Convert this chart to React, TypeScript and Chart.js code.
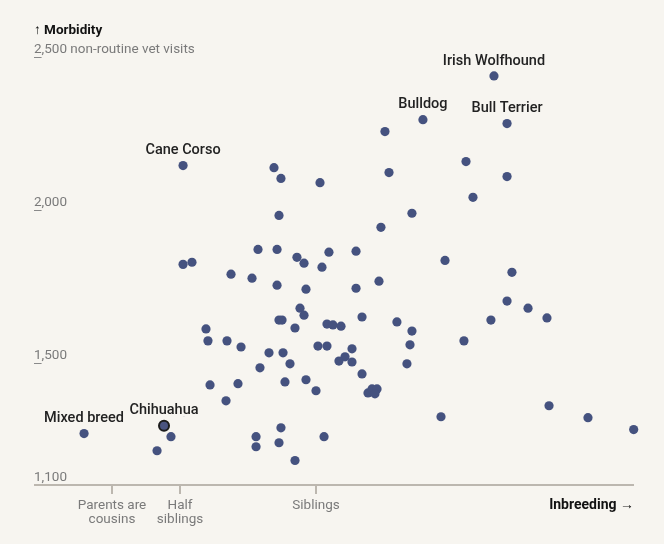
import React, { useEffect, useRef } from "react";
import { Chart, registerables } from "chart.js";

Chart.register(...registerables);

// Labelled breeds come first (indices 0-5)
const labelNames = ["Mixed breed", "Chihuahua", "Cane Corso", "Bulldog", "Irish Wolfhound", "Bull Terrier"];
const highlightIndex = 1;

// Inbreeding coefficient (%)
const inbreeding = [
  3.68, 11.03, 12.78, 34.83, 41.36, 42.56,
  10.39, 11.67, 12.96, 12.78, 13.6, 21.14, 21.78, 21.6, 19.67, 21.42, 23.25, 23.9, 17.19, 19.12,
  21.42, 24.08, 31.34, 38.79, 31.71, 25.37, 39.43, 33.82, 30.97, 26.19, 28.68, 25.55, 36.86, 28.68,
  30.79, 42.56, 43.01, 42.56, 44.49, 41.08, 46.23, 38.6, 36.49, 46.42, 50.0, 54.2, 23.53, 23.9,
  21.6, 21.88, 23.07, 14.89, 15.07, 16.82, 18.11, 25.18, 26.01, 20.68, 21.97, 22.61, 19.85, 15.26,
  17.83, 22.15, 24.08, 25.0, 16.73, 21.78, 19.49, 19.49, 21.6, 25.74, 23.07, 29.23, 26.01, 26.56,
  27.3, 32.44, 33.82, 28.31, 27.67, 27.11, 28.31, 33.64, 33.36, 29.23, 29.78, 30.15, 30.61, 30.42,
];

// Non-routine vet visits
const morbidity = [
  1268, 1294, 2144, 2294, 2437, 2281,
  1212, 1258, 1338, 1821, 1828, 2137, 2102, 1981, 1870, 1870, 1844, 1825, 1789, 1776,
  1753, 1740, 2255, 2157, 2121, 2088, 2040, 1988, 1942, 1861, 1864, 1812, 1834, 1743,
  1766, 2108, 1795, 1701, 1678, 1639, 1646, 1571, 1323, 1359, 1320, 1281, 1678, 1655,
  1639, 1639, 1613, 1610, 1571, 1571, 1551, 1554, 1554, 1532, 1532, 1496, 1483, 1427,
  1431, 1437, 1444, 1408, 1375, 1287, 1258, 1225, 1238, 1258, 1180, 1649, 1626, 1623,
  1619, 1633, 1603, 1545, 1519, 1505, 1502, 1558, 1496, 1463, 1401, 1414, 1414, 1398,
];

const yTickValues = [2500, 2000, 1500, 1100];
const yTickLabels = ["2,500", "2,000", "1,500", "1,100"];
const yUnitSuffix = " non-routine vet visits";

const xTickValues = [6.25, 12.5, 25];
const xTickLabels = [["Parents are", "cousins"], ["Half", "siblings"], ["Siblings"]];

const BG = "#f7f5f0";
const DOT = "#45527f";
const FONT = "Roboto, 'Noto Sans', sans-serif";

const decorPlugin = {
  id: "decor",
  beforeDraw(chart: any) {
    const { ctx } = chart;
    ctx.save();
    ctx.fillStyle = BG;
    ctx.fillRect(0, 0, chart.width, chart.height);
    ctx.restore();
  },
  afterDraw(chart: any) {
    const { ctx, chartArea } = chart;
    const xs = chart.scales.x;
    const ys = chart.scales.y;
    ctx.save();
    // title
    ctx.fillStyle = "#121212";
    ctx.font = `bold 13.5px ${FONT}`;
    ctx.textAlign = "left";
    ctx.textBaseline = "alphabetic";
    ctx.fillText("↑ Morbidity", chartArea.left, 34);

    // y ticks
    ctx.font = `13.5px ${FONT}`;
    yTickValues.forEach((v, i) => {
      const py = Math.round(ys.getPixelForValue(v));
      const text = yTickLabels[i] + (i === 0 ? yUnitSuffix : "");
      ctx.fillStyle = "#7a7a7a";
      ctx.fillText(text, chartArea.left, py - 4);
      const w = ctx.measureText(yTickLabels[i].charAt(0)).width;
      ctx.strokeStyle = "#8a8a8a";
      ctx.lineWidth = 1;
      ctx.beginPath();
      ctx.moveTo(chartArea.left, py + 0.5);
      ctx.lineTo(chartArea.left + w, py + 0.5);
      ctx.stroke();
    });

    // x axis
    const axisY = Math.round(ys.getPixelForValue(1100));
    ctx.strokeStyle = "#bcb7af";
    ctx.lineWidth = 2;
    ctx.beginPath();
    ctx.moveTo(chartArea.left, axisY);
    ctx.lineTo(chartArea.right, axisY);
    ctx.stroke();

    ctx.textAlign = "center";
    xTickValues.forEach((v, i) => {
      const px = Math.round(xs.getPixelForValue(v));
      ctx.strokeStyle = "#bcb7af";
      ctx.lineWidth = 2;
      ctx.beginPath();
      ctx.moveTo(px, axisY);
      ctx.lineTo(px, axisY + 9);
      ctx.stroke();
      ctx.fillStyle = "#7a7a7a";
      ctx.font = `13.5px ${FONT}`;
      xTickLabels[i].forEach((line, j) => {
        ctx.fillText(line, px, axisY + 24 + j * 14);
      });
    });

    ctx.textAlign = "right";
    ctx.fillStyle = "#121212";
    ctx.font = `bold 14px ${FONT}`;
    ctx.fillText("Inbreeding →", chartArea.right, axisY + 24);

    // point labels
    ctx.textAlign = "center";
    ctx.textBaseline = "middle";
    ctx.font = `500 14.5px ${FONT}`;
    ctx.lineJoin = "round";
    labelNames.forEach((name, i) => {
      const px = xs.getPixelForValue(inbreeding[i]);
      const py = ys.getPixelForValue(morbidity[i]) - 15;
      ctx.strokeStyle = BG;
      ctx.lineWidth = 6;
      ctx.strokeText(name, px, py);
      ctx.fillStyle = "#222222";
      ctx.fillText(name, px, py);
    });
    ctx.restore();
  },
};

export default function App() {
  const ref = useRef<HTMLCanvasElement | null>(null);
  useEffect(() => {
    if (!ref.current) return;
    const points = inbreeding.map((x, i) => ({ x, y: morbidity[i] }));
    const chart = new Chart(ref.current, {
      type: "scatter",
      data: {
        datasets: [
          {
            data: points,
            clip: false as any,
            pointRadius: points.map((_, i) => (i === highlightIndex ? 5 : 4.6)),
            pointBackgroundColor: points.map((_, i) => (i === highlightIndex ? "#4a5480" : DOT)),
            pointBorderColor: points.map((_, i) => (i === highlightIndex ? "#1c1c1c" : DOT)),
            pointBorderWidth: points.map((_, i) => (i === highlightIndex ? 2 : 0)),
            pointHoverRadius: 5,
          },
        ],
      },
      options: {
        responsive: false,
        animation: false,
        devicePixelRatio: 1,
        layout: { padding: { left: 34, right: 30, top: 26, bottom: 59 } },
        plugins: { legend: { display: false }, tooltip: { enabled: false } },
        scales: {
          x: { type: "linear", min: -0.92, max: 54.23, display: false },
          y: { type: "linear", min: 1100, max: 2600, display: false },
        },
        events: [],
      },
      plugins: [decorPlugin],
    });
    return () => chart.destroy();
  }, []);
  return (
    <div style={{ position: "absolute", left: 0, top: 0, width: 664, height: 544, background: BG }}>
      <canvas ref={ref} width={664} height={544} style={{ width: 664, height: 544, display: "block" }} />
    </div>
  );
}
